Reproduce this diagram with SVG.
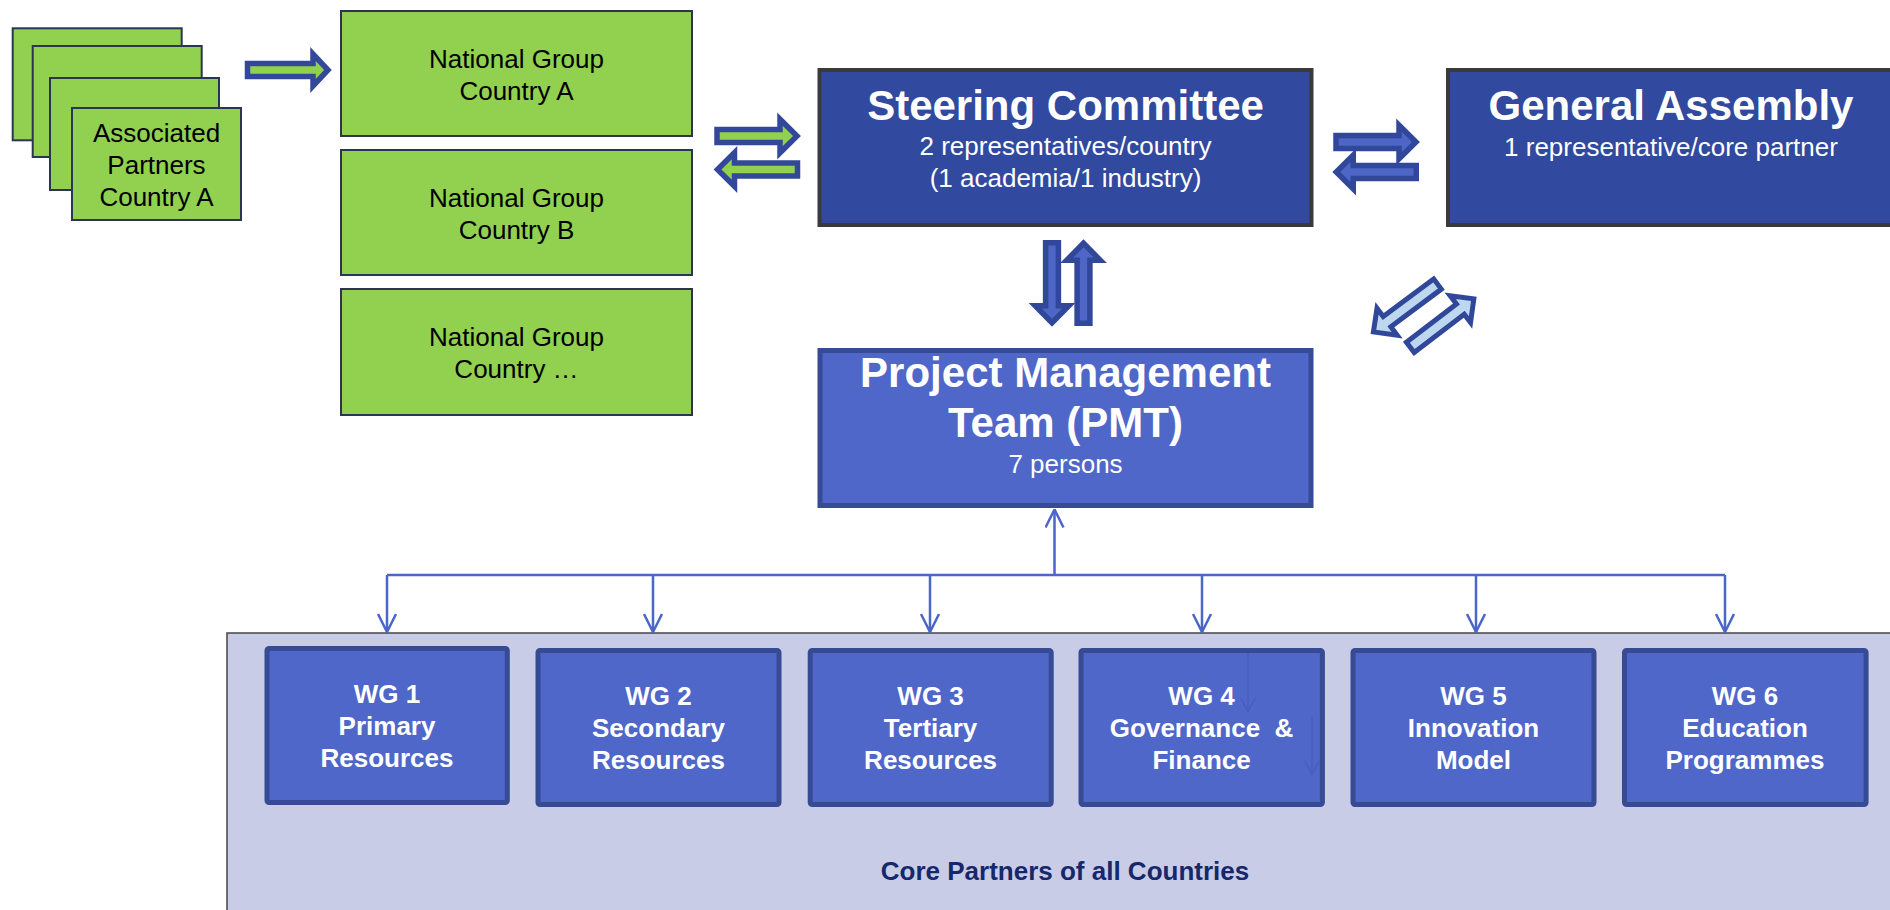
<svg xmlns="http://www.w3.org/2000/svg" xmlns:xlink="http://www.w3.org/1999/xlink" width="1890" height="910" viewBox="0 0 1890 910">
<style>
text{font-family:"Liberation Sans",Arial,sans-serif;text-anchor:middle}
.green{fill:#92D050;stroke:#2B3552;stroke-width:2}
.dark{fill:#31499E;stroke:#3A3A3A;stroke-width:4}
.mid{fill:#4F67C8;stroke:#364A96;stroke-width:5}
.wg{fill:#4F67C8;stroke:#374B94;stroke-width:5}
.core{fill:#C8CCE6;stroke:#444;stroke-width:1.5}
.t26{font-size:26px;fill:#000}
.w26{font-size:26px;fill:#fff}
.wb26{font-size:26px;font-weight:bold;fill:#fff}
.wb42{font-size:42px;font-weight:bold;fill:#fff}
.ag{fill:#92D050;stroke:#33489A;stroke-width:5.5}
.ab{fill:#4E66C6;stroke:#30479A;stroke-width:5.5}
.al{fill:#BDD7F0;stroke:#30479A;stroke-width:5}
.conn{fill:none;stroke:#4A66C8;stroke-width:2.5}
.ghost{fill:none;stroke:#3F5AB8;stroke-width:1.5;opacity:0.55}
</style>
<defs>
<path id="blk" d="M0,-6.4 H63 V-16.8 L80,0 L63,16.8 V6.4 H0 Z"/>
<marker id="open" viewBox="0 0 20 20" refX="19" refY="10" markerWidth="20" markerHeight="20" markerUnits="userSpaceOnUse" orient="auto">
<path d="M1,1 L19,10 L1,19" fill="none" stroke="#4A66C8" stroke-width="2.5"/>
</marker>
<marker id="ghostHead" viewBox="0 0 16 16" refX="15" refY="8" markerWidth="16" markerHeight="16" markerUnits="userSpaceOnUse" orient="auto">
<path d="M1,1 L15,8 L1,15" fill="none" stroke="#3F5AB8" stroke-width="1.5"/>
</marker>
</defs>
<rect width="1890" height="910" fill="#fff"/>

<g id="core-partners">
<rect class="core" x="227" y="633" width="1680" height="290"/>
<text x="1065" y="880" style="font-size:26px;font-weight:bold;fill:#17276B">Core Partners of all Countries</text>
</g>

<g id="associated-partners">
<rect class="green" x="12.7" y="28.3" width="169" height="112"/>
<rect class="green" x="32.7" y="46" width="169" height="111"/>
<rect class="green" x="50" y="78" width="169" height="112"/>
<rect class="green" x="72" y="108" width="169" height="112"/>
<text class="t26" x="156.5" y="142">Associated</text>
<text class="t26" x="156.5" y="174">Partners</text>
<text class="t26" x="156.5" y="206">Country A</text>
</g>

<g id="ng-a">
<rect class="green" x="341" y="11" width="351" height="125"/>
<text class="t26" x="516.5" y="68">National Group</text>
<text class="t26" x="516.5" y="100">Country A</text>
</g>
<g id="ng-b">
<rect class="green" x="341" y="150" width="351" height="125"/>
<text class="t26" x="516.5" y="207">National Group</text>
<text class="t26" x="516.5" y="239">Country B</text>
</g>
<g id="ng-c">
<rect class="green" x="341" y="289" width="351" height="126"/>
<text class="t26" x="516.5" y="346">National Group</text>
<text class="t26" x="516.5" y="378">Country …</text>
</g>

<g id="steering-committee">
<rect class="dark" x="819.5" y="70" width="492" height="155"/>
<text class="wb42" x="1065.5" y="120">Steering Committee</text>
<text class="w26" x="1065.5" y="155">2 representatives/country</text>
<text class="w26" x="1065.5" y="187">(1 academia/1 industry)</text>
</g>

<g id="general-assembly">
<rect class="dark" x="1448" y="70" width="460" height="155"/>
<text class="wb42" x="1671" y="120">General Assembly</text>
<text class="w26" x="1671" y="156">1 representative/core partner</text>
</g>

<g id="pmt">
<rect class="mid" x="820" y="350.5" width="491" height="155"/>
<text class="wb42" x="1065.5" y="387">Project Management</text>
<text class="wb42" x="1065.5" y="437">Team (PMT)</text>
<text class="w26" x="1065.5" y="473">7 persons</text>
</g>

<g id="wg1">
<rect class="wg" x="267" y="648.5" width="240.3" height="154" rx="2"/>
<text class="wb26" x="387" y="703">WG 1</text>
<text class="wb26" x="387" y="735">Primary</text>
<text class="wb26" x="387" y="767">Resources</text>
</g>
<g id="wg2">
<rect class="wg" x="538" y="650.5" width="241" height="154" rx="2"/>
<text class="wb26" x="658.5" y="705">WG 2</text>
<text class="wb26" x="658.5" y="737">Secondary</text>
<text class="wb26" x="658.5" y="769">Resources</text>
</g>
<g id="wg3">
<rect class="wg" x="810.2" y="650.5" width="241" height="154" rx="2"/>
<text class="wb26" x="930.6" y="705">WG 3</text>
<text class="wb26" x="930.6" y="737">Tertiary</text>
<text class="wb26" x="930.6" y="769">Resources</text>
</g>
<g id="wg4">
<rect class="wg" x="1081" y="650.5" width="241.4" height="154" rx="2"/>
<text class="wb26" x="1201.6" y="705">WG 4</text>
<text class="wb26" x="1201.6" y="737" xml:space="preserve">Governance  &amp;</text>
<text class="wb26" x="1201.6" y="769">Finance</text>
</g>
<g id="wg5">
<rect class="wg" x="1353" y="650.5" width="241" height="154" rx="2"/>
<text class="wb26" x="1473.5" y="705">WG 5</text>
<text class="wb26" x="1473.5" y="737">Innovation</text>
<text class="wb26" x="1473.5" y="769">Model</text>
</g>
<g id="wg6">
<rect class="wg" x="1624.5" y="650.5" width="241.6" height="154" rx="2"/>
<text class="wb26" x="1745" y="705">WG 6</text>
<text class="wb26" x="1745" y="737">Education</text>
<text class="wb26" x="1745" y="769">Programmes</text>
</g>

<g id="connectors">
<path class="ag" d="M247.5,63.5 H313 V54 L328,70 L313,86 V76.5 H247.5 Z"/>
<use href="#blk" xlink:href="#blk" class="ag" transform="translate(717,136)"/>
<use href="#blk" xlink:href="#blk" class="ag" transform="translate(797.5,169.5) scale(-1,1)"/>
<use href="#blk" xlink:href="#blk" class="ab" transform="translate(1336,142)"/>
<use href="#blk" xlink:href="#blk" class="ab" transform="translate(1416.25,172) scale(-1,1)"/>
<use href="#blk" xlink:href="#blk" class="ab" transform="translate(1052,242.75) rotate(90)"/>
<use href="#blk" xlink:href="#blk" class="ab" transform="translate(1083.5,323.25) rotate(-90)"/>
<use href="#blk" xlink:href="#blk" class="al" transform="translate(1437.5,284) rotate(143.2)"/>
<use href="#blk" xlink:href="#blk" class="al" transform="translate(1410.3,347.4) rotate(-37.4)"/>
<path class="conn" d="M387,575 H1725"/>
<path class="conn" d="M1054.5,575 V509.5" marker-end="url(#open)"/>
<path class="conn" d="M387,575 V632" marker-end="url(#open)"/>
<path class="conn" d="M653,575 V632" marker-end="url(#open)"/>
<path class="conn" d="M930,575 V632" marker-end="url(#open)"/>
<path class="conn" d="M1202,575 V632" marker-end="url(#open)"/>
<path class="conn" d="M1476,575 V632" marker-end="url(#open)"/>
<path class="conn" d="M1725,575 V632" marker-end="url(#open)"/>
<path class="ghost" d="M1248,653 V712" marker-end="url(#ghostHead)"/>
<path class="ghost" d="M1312,717 V775" marker-end="url(#ghostHead)"/>
</g>
</svg>
